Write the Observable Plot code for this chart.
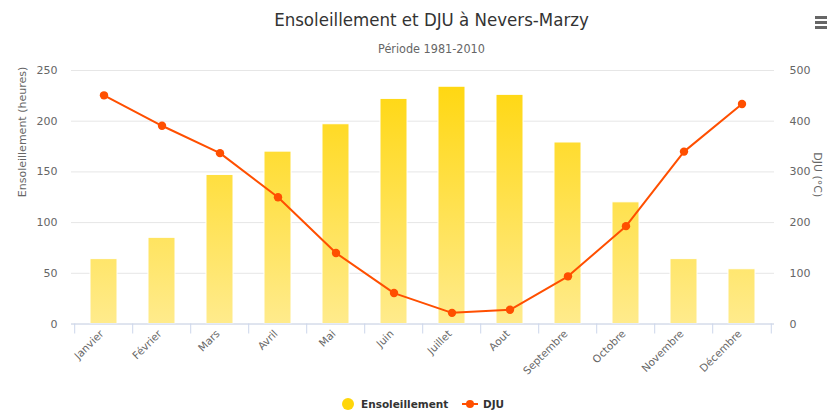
<!DOCTYPE html>
<html><head><meta charset="utf-8">
<script src="https://cdn.jsdelivr.net/npm/d3@7"></script>
<script src="https://cdn.jsdelivr.net/npm/@observablehq/plot@0.6"></script>
<style>
body{margin:0;width:827px;height:411px;overflow:hidden;background:#fff;position:relative;font-family:"DejaVu Sans",sans-serif}
#title{position:absolute;top:9px;left:18px;width:827px;text-align:center;font-family:"DejaVu Sans Condensed","DejaVu Sans",sans-serif;font-size:18.5px;color:#333}
#subtitle{position:absolute;top:41px;left:18px;width:827px;text-align:center;font-family:"DejaVu Sans Condensed","DejaVu Sans",sans-serif;font-size:12.5px;color:#666}
#chart{position:absolute;top:60px;left:0}
#menu{position:absolute;top:16px;left:815px;width:14px}
#menu div{height:2.5px;background:#666;margin-bottom:2.5px}
#legend{position:absolute;top:396px;left:0;width:827px;height:16px;font-size:10.5px;font-weight:bold;color:#333}
.item{position:absolute;top:0;display:flex;align-items:center;height:16px}
</style></head><body>
<div id="title">Ensoleillement et DJU à Nevers-Marzy</div>
<div id="subtitle">Période 1981-2010</div>
<div id="menu"><div></div><div></div><div></div></div>
<div id="chart"></div>
<div id="legend"></div>
<script>
const months = ["Janvier","Février","Mars","Avril","Mai","Juin","Juillet","Aout","Septembre","Octobre","Novembre","Décembre"];
const sunshine = [64, 85, 147, 170, 197, 222, 234, 226, 179, 120, 64, 54];
const dju = [451, 391, 337, 250, 140, 61, 22, 28, 94, 193, 340, 434];
const leftTicks = [0, 50, 100, 150, 200, 250];
const seriesNames = ["Ensoleillement", "DJU"];
const axisTitles = ["Ensoleillement (heures)", "DJU (°C)"];

const ratio = 250 / 500; // right axis (0-500) mapped on left scale (0-250)
const barData = months.map((m, i) => ({month: m, value: sunshine[i]}));
const lineData = months.map((m, i) => ({month: m, value: dju[i]}));

const W = 827, H = 330, mL = 71, mR = 53, mT = 10, mB = 66.5;
const step = (W - mL - mR) / months.length;
const lineColor = "#ff4f00";

const chart = Plot.plot({
  width: W, height: H,
  marginLeft: mL, marginRight: mR, marginTop: mT, marginBottom: mB,
  style: {fontFamily: "DejaVu Sans, sans-serif", fontSize: "11px", color: "#666", background: "#fff"},
  x: {domain: months, paddingInner: 0.53, paddingOuter: 0.265, label: null},
  y: {domain: [0, 250], label: null},
  marks: [
    Plot.gridY(leftTicks, {stroke: "#e6e6e6", strokeOpacity: 1}),
    Plot.barY(barData, {x: "month", y: "value", fill: "url(#sunGrad)", stroke: "#fff", strokeWidth: 1}),
    Plot.ruleY([0], {stroke: "#ccd6eb"}),
    Plot.axisX(months, {tickSize: 10, tickFormat: () => "", dx: -step / 2, stroke: "#ccd6eb"}),
    Plot.axisX([months[months.length - 1]], {tickSize: 10, tickFormat: () => "", dx: step / 2, stroke: "#ccd6eb"}),
    Plot.axisX(months, {tickSize: 0, tickRotate: -45, tickPadding: 8, dx: -2, fontSize: 10.5, fill: "#666", label: null}),
    Plot.axisY(leftTicks, {anchor: "left", tickSize: 0, tickPadding: 14, fill: "#666", label: null}),
    Plot.axisY(leftTicks, {anchor: "right", tickSize: 0, tickPadding: 15, fill: "#666", label: null, tickFormat: d => String(d / ratio), textAnchor: "start"}),
    Plot.text([axisTitles[0]], {frameAnchor: "left", rotate: -90, dx: -49, fill: "#666", fontSize: 11}),
    Plot.text([axisTitles[1]], {frameAnchor: "right", rotate: 90, dx: 43, fill: "#666", fontSize: 11}),
    Plot.line(lineData, {x: "month", y: d => d.value * ratio, stroke: lineColor, strokeWidth: 2}),
    Plot.dot(lineData, {x: "month", y: d => d.value * ratio, fill: lineColor, r: 4.2, stroke: "none"})
  ]
});

// gradient definition for bars
const ns = "http://www.w3.org/2000/svg";
const defs = document.createElementNS(ns, "defs");
const grad = document.createElementNS(ns, "linearGradient");
grad.setAttribute("id", "sunGrad");
grad.setAttribute("gradientUnits", "userSpaceOnUse");
grad.setAttribute("x1", "0"); grad.setAttribute("x2", "0");
grad.setAttribute("y1", String(mT)); grad.setAttribute("y2", String(H - mB));
[["0%", "#ffd60a"], ["100%", "#ffeb8c"]].forEach(([o, c]) => {
  const s = document.createElementNS(ns, "stop");
  s.setAttribute("offset", o); s.setAttribute("stop-color", c);
  grad.appendChild(s);
});
defs.appendChild(grad);
chart.insertBefore(defs, chart.firstChild);
document.getElementById("chart").appendChild(chart);

// legend
const legend = document.getElementById("legend");
legend.innerHTML =
  `<div class="item" style="left:341px"><svg width="14" height="14"><circle cx="7" cy="7" r="6" fill="#ffd60a"/></svg><span style="margin-left:6px">${seriesNames[0]}</span></div>` +
  `<div class="item" style="left:461px"><svg width="18" height="14"><line x1="1" x2="17" y1="7" y2="7" stroke="${lineColor}" stroke-width="2"/><circle cx="9" cy="7" r="4" fill="${lineColor}"/></svg><span style="margin-left:4px">${seriesNames[1]}</span></div>`;
</script>
</body></html>
